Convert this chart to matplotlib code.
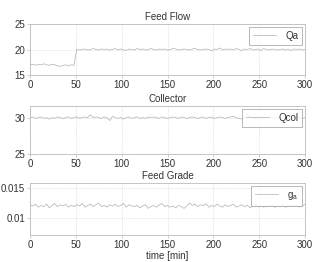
import matplotlib
matplotlib.use("Agg")
import matplotlib.pyplot as plt

t = list(range(0, 301, 3))

feed_flow = [17.0, 17.1, 16.9, 17.1, 17.0, 17.2, 17.0, 16.9, 17.1, 17.0, 16.8, 16.7, 16.9, 17.0, 16.8, 17.0, 16.9,
             20.1, 19.9, 20.0, 20.1, 19.9, 20.0, 20.2, 20.0, 19.9, 20.1, 20.0, 20.1, 19.9, 20.0, 20.2, 19.9,
             20.1, 20.0, 19.8, 20.1, 20.0, 19.9, 20.2, 20.0, 20.1, 19.9, 20.0, 20.2, 20.0, 19.9, 20.1, 20.0,
             20.1, 19.9, 20.0, 20.2, 20.1, 19.9, 20.0, 20.1, 20.0, 19.9, 20.1, 20.2, 20.0, 19.9, 20.0, 20.1,
             20.0, 19.8, 20.1, 20.0, 20.3, 19.9, 20.1, 20.0, 20.1, 19.9, 20.2, 20.0, 19.8, 20.1, 20.0, 20.2,
             19.9, 20.0, 20.1, 19.8, 20.2, 20.0, 19.9, 20.1, 20.0, 19.9, 20.0, 20.1, 19.9, 20.0, 19.8, 20.1,
             20.0, 20.1, 19.9, 20.0]

collector = [30.0, 30.1, 29.9, 30.0, 30.1, 29.9, 30.0, 29.8, 30.0, 29.9, 30.1, 30.0, 29.9, 30.0, 30.1, 29.9, 30.0,
             30.1, 29.9, 30.0, 30.1, 30.0, 30.4, 30.0, 30.1, 30.0, 29.9, 30.1, 30.0, 29.6, 30.2, 30.0, 29.9,
             30.0, 29.8, 30.0, 30.1, 29.9, 30.0, 30.1, 29.9, 30.0, 29.9, 30.1, 30.0, 30.1, 30.0, 29.9, 30.1,
             30.0, 29.9, 30.0, 30.1, 30.0, 29.9, 30.1, 30.0, 29.9, 30.0, 30.1, 30.0, 29.9, 30.0, 30.1, 29.9,
             30.0, 30.1, 29.9, 30.0, 30.1, 30.0, 29.9, 30.0, 30.1, 30.2, 30.0, 29.9, 29.8, 30.0, 30.5, 30.1,
             30.0, 29.9, 30.1, 30.0, 29.9, 30.0, 30.1, 29.9, 30.0, 30.1, 30.0, 29.9, 30.1, 30.0, 29.9, 30.0,
             30.1, 30.0, 29.9, 30.0]

feed_grade = [0.0122, 0.0120, 0.0123, 0.0118, 0.0121, 0.0119, 0.0123, 0.0117, 0.0121, 0.0124, 0.0119, 0.0122,
              0.0120, 0.0123, 0.0118, 0.0121, 0.0119, 0.0122, 0.0120, 0.0124, 0.0118, 0.0121, 0.0123, 0.0119,
              0.0122, 0.0125, 0.0119, 0.0121, 0.0118, 0.0122, 0.0120, 0.0123, 0.0119, 0.0121, 0.0124, 0.0118,
              0.0122, 0.0120, 0.0119, 0.0121, 0.0117, 0.0120, 0.0122, 0.0116, 0.0119, 0.0121, 0.0118, 0.0122,
              0.0124, 0.0119, 0.0121, 0.0118, 0.0120, 0.0117, 0.0121, 0.0119, 0.0116, 0.0120, 0.0125, 0.0121,
              0.0123, 0.0119, 0.0122, 0.0120, 0.0124, 0.0118, 0.0121, 0.0119, 0.0123, 0.0120, 0.0118, 0.0122,
              0.0119, 0.0121, 0.0123, 0.0118, 0.0120, 0.0122, 0.0119, 0.0121, 0.0117, 0.0120, 0.0122, 0.0119,
              0.0121, 0.0118, 0.0120, 0.0119, 0.0121, 0.0118, 0.0120, 0.0119, 0.0121, 0.0118, 0.0120, 0.0122,
              0.0119, 0.0121, 0.0118, 0.0120, 0.0123]

titles = ["Feed Flow", "Collector", "Feed Grade"]
labels = ["Qa", "Qcol", "$\\mathregular{g_a}$"]
series = [feed_flow, collector, feed_grade]
ylims = [(15, 25), (25, 31.6), (0.0072, 0.0158)]
yticks = [[15, 20, 25], [25, 30], [0.01, 0.015]]
ytl = [["15", "20", "25"], ["25", "30"], ["0.01", "0.015"]]

plt.rcParams['font.family'] = ['Liberation Sans', 'DejaVu Sans']
plt.rcParams['font.size'] = 7

fig = plt.figure(figsize=(3.25, 2.62), dpi=100)
W, H = 325, 262
boxes = [(30, 24, 305, 75), (30, 106, 305, 154), (30, 183, 305, 235)]
for i, (x0, y0, x1, y1) in enumerate(boxes):
    ax = fig.add_axes([x0 / W, 1 - y1 / H, (x1 - x0) / W, (y1 - y0) / H])
    ax.plot(t, series[i], color="#b0b0b0", lw=0.5, label=labels[i])
    ax.set_xlim(0, 300)
    ax.set_ylim(*ylims[i])
    ax.set_xticks([0, 50, 100, 150, 200, 250, 300])
    ax.set_yticks(yticks[i])
    ax.set_yticklabels(ytl[i])
    ax.grid(True, linestyle=":", color="#cccccc", lw=0.5)
    ax.set_title(titles[i], fontsize=7, pad=3, color="#333333")
    for s in ax.spines.values():
        s.set_color("#bbbbbb")
        s.set_linewidth(0.6)
    ax.tick_params(length=2, width=0.5, color="#bbbbbb", labelcolor="#333333", pad=1.5, labelsize=7)
    leg = ax.legend(loc="upper right", fontsize=7, frameon=True, fancybox=False,
                    handlelength=2.4, handletextpad=0.9, borderpad=0.4, borderaxespad=0.3)
    leg.get_frame().set_edgecolor("#999999")
    leg.get_frame().set_linewidth(0.6)
    for txt in leg.get_texts():
        txt.set_color("#333333")
    if i == 2:
        ax.set_xlabel("time [min]", fontsize=7, labelpad=0.5, color="#333333")

fig.savefig("out.png", dpi=100)
